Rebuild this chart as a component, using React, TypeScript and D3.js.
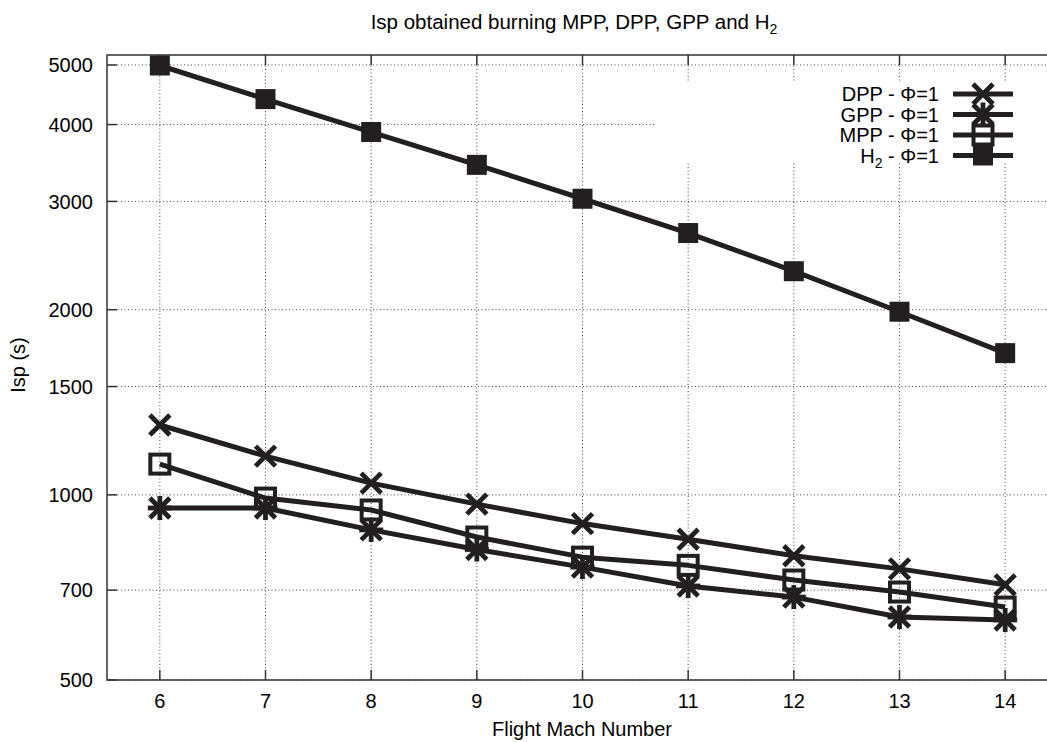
import React from "react";
import * as d3 from "d3";

// Flight Mach numbers and specific impulse (s) for each propellant
const machNumbers = [6, 7, 8, 9, 10, 11, 12, 13, 14];
const dppIsp = [1299, 1156, 1045, 966, 898, 847, 796, 758, 714];
const gppIsp = [952, 952, 877, 815, 763, 711, 682, 633, 626];
const mppIsp = [1122, 988, 945, 854, 792, 768, 727, 695, 657];
const h2Isp = [4990, 4400, 3890, 3440, 3030, 2665, 2310, 1985, 1700];

const yTicks = [500, 700, 1000, 1500, 2000, 3000, 4000, 5000];
const xTicks = [6, 7, 8, 9, 10, 11, 12, 13, 14];

type Marker = "cross" | "star" | "box" | "filledBox";

const seriesList: { name: string; sub?: string; values: number[]; marker: Marker }[] = [
  { name: "DPP", values: dppIsp, marker: "cross" },
  { name: "GPP", values: gppIsp, marker: "star" },
  { name: "MPP", values: mppIsp, marker: "box" },
  { name: "H", sub: "2", values: h2Isp, marker: "filledBox" },
];

const W = 1047;
const H = 742;
const left = 107;
const right = 1058;
const top = 55;
const bottom = 680;
const ink = "#231f20";
const font = "'Liberation Sans', Arial, sans-serif";

const x = d3.scaleLinear().domain([5.5, 14.5]).range([left, right]);
const y = d3.scaleLog().domain([500, 5190]).range([bottom, top]);

function MarkerShape({ kind, cx, cy }: { kind: Marker; cx: number; cy: number }) {
  const r = 10;
  if (kind === "cross" || kind === "star") {
    return (
      <g stroke={ink} strokeWidth={4.8} strokeLinecap="butt">
        <line x1={cx - r} y1={cy - r} x2={cx + r} y2={cy + r} />
        <line x1={cx - r} y1={cy + r} x2={cx + r} y2={cy - r} />
        {kind === "star" && (
          <>
            <line x1={cx} y1={cy - r - 2} x2={cx} y2={cy + r + 2} />
            <line x1={cx - r - 2} y1={cy} x2={cx + r + 2} y2={cy} />
          </>
        )}
      </g>
    );
  }
  if (kind === "box") {
    const s = 19;
    return (
      <rect x={cx - s / 2} y={cy - s / 2} width={s} height={s} fill="none" stroke={ink} strokeWidth={4} />
    );
  }
  const s = 20;
  return <rect x={cx - s / 2} y={cy - s / 2} width={s} height={s} fill={ink} />;
}

export default function App() {
  const line = d3
    .line<number>()
    .x((_, i) => x(machNumbers[i]))
    .y((v) => y(v));

  const legendTextX = 939;
  const legendY0 = 94;
  const legendStep = 20.5;

  return (
    <div style={{ position: "fixed", left: 0, top: 0, width: W, height: H, background: "#fff" }}>
      <svg width={W} height={H} style={{ display: "block" }} fontFamily={font}>
        <rect width={W} height={H} fill="#fff" />

        {/* title */}
        <text x={574} y={29} fontSize={20.5} textAnchor="middle" fill="#000">
          Isp obtained burning MPP, DPP, GPP and H
          <tspan fontSize={14} dy={5}>2</tspan>
        </text>

        {/* grid */}
        <g stroke="#444" strokeWidth={1} strokeDasharray="1,2.5">
          {xTicks.map((t) => (
            <line key={"gx" + t} x1={x(t)} x2={x(t)} y1={top} y2={bottom} />
          ))}
          {yTicks.map((t) => (
            <line key={"gy" + t} x1={left} x2={right} y1={y(t)} y2={y(t)} />
          ))}
        </g>

        {/* opaque key background */}
        <rect x={655} y={82} width={W - 655} height={81} fill="#fff" />

        {/* frame and ticks */}
        <g stroke="#333" strokeWidth={1.5} fill="none">
          <rect x={left} y={top} width={right - left} height={bottom - top} />
          {xTicks.map((t) => (
            <g key={"tx" + t}>
              <line x1={x(t)} x2={x(t)} y1={bottom} y2={bottom - 10} />
              <line x1={x(t)} x2={x(t)} y1={top} y2={top + 10} />
            </g>
          ))}
          {yTicks.map((t) => (
            <g key={"ty" + t}>
              <line x1={left} x2={left + 10} y1={y(t)} y2={y(t)} />
              <line x1={right} x2={right - 10} y1={y(t)} y2={y(t)} />
            </g>
          ))}
        </g>

        {/* tick labels */}
        <g fontSize={20} fill="#000">
          {xTicks.map((t) => (
            <text key={"lx" + t} x={x(t)} y={708} textAnchor="middle">
              {t}
            </text>
          ))}
          {yTicks.map((t) => (
            <text key={"ly" + t} x={93} y={y(t)} dy="0.36em" textAnchor="end">
              {t}
            </text>
          ))}
        </g>

        {/* axis titles */}
        <text x={582} y={736} fontSize={20} textAnchor="middle" fill="#000">
          Flight Mach Number
        </text>
        <text transform="translate(25,365) rotate(-90)" fontSize={20} textAnchor="middle" fill="#000">
          Isp (s)
        </text>

        {/* data series */}
        {seriesList.map((s) => (
          <g key={s.name}>
            <path d={line(s.values) || ""} fill="none" stroke={ink} strokeWidth={5} strokeLinejoin="round" />
            {s.values.map((v, i) => (
              <MarkerShape key={i} kind={s.marker} cx={x(machNumbers[i])} cy={y(v)} />
            ))}
          </g>
        ))}

        {/* key */}
        {seriesList.map((s, i) => {
          const ly = legendY0 + i * legendStep;
          return (
            <g key={"key" + s.name}>
              <text x={legendTextX} y={ly} dy="0.36em" fontSize={20} textAnchor="end" fill="#000">
                {s.name}
                {s.sub && (
                  <tspan fontSize={14} dy={5}>
                    {s.sub}
                  </tspan>
                )}
                <tspan dy={s.sub ? -5 : 0}>{" - Φ=1"}</tspan>
              </text>
              <line x1={953} x2={1013} y1={ly} y2={ly} stroke={ink} strokeWidth={5} />
              <MarkerShape kind={s.marker} cx={983} cy={ly} />
            </g>
          );
        })}
      </svg>
    </div>
  );
}
